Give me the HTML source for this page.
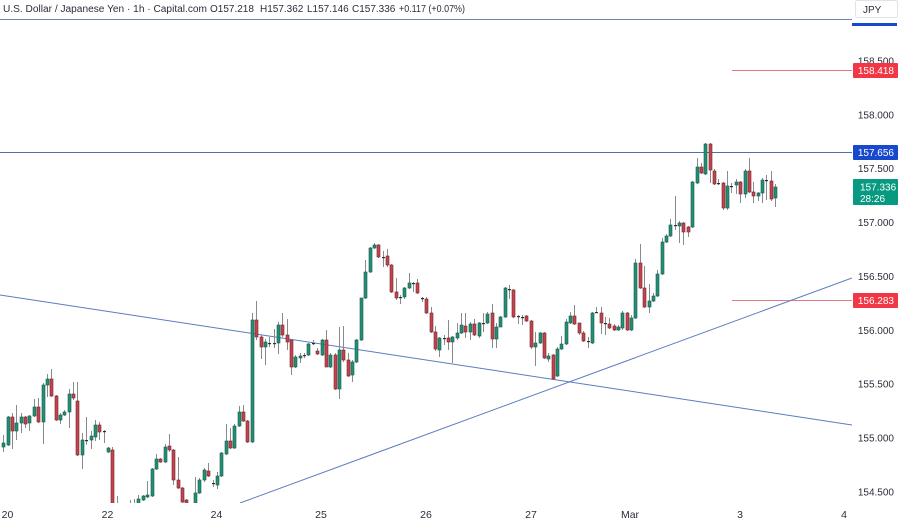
<!DOCTYPE html>
<html><head><meta charset="utf-8"><style>
html,body{margin:0;padding:0;background:#fff;}
body{width:900px;height:521px;overflow:hidden;}
svg{display:block;font-family:"Liberation Sans",sans-serif;}
.ax{font-size:10px;fill:#2a2e39;}
.lb{font-size:10px;fill:#fff;}
.dt{font-size:10.5px;fill:#2a2e39;}
.tt{font-size:10px;fill:#2a2e39;}
</style></head><body>
<svg width="900" height="521" viewBox="0 0 900 521" xmlns="http://www.w3.org/2000/svg">
<defs><clipPath id="c"><rect x="0" y="0" width="852" height="503"/></clipPath></defs>
<rect width="900" height="521" fill="#fff"/>
<!-- title -->
<text class="tt" x="3" y="12" textLength="204" lengthAdjust="spacingAndGlyphs">U.S. Dollar / Japanese Yen · 1h · Capital.com</text>
<text class="tt" x="210" y="12">O157.218</text>
<text class="tt" x="260" y="12">H157.362</text>
<text class="tt" x="307" y="12">L157.146</text>
<text class="tt" x="352" y="12">C157.336</text>
<text class="tt" x="399" y="12" textLength="66" lengthAdjust="spacingAndGlyphs">+0.117 (+0.07%)</text>

<g clip-path="url(#c)">
<line x1="0" y1="19.5" x2="852" y2="19.5" stroke="#6a86b6" stroke-width="1"/>
<line x1="0" y1="152.5" x2="852" y2="152.5" stroke="#4f6fa8" stroke-width="1"/>
<line x1="732" y1="70.5" x2="852" y2="70.5" stroke="#e07a84" stroke-width="1"/>
<line x1="732" y1="300.5" x2="852" y2="300.5" stroke="#e07a84" stroke-width="1"/>
<line x1="0" y1="295" x2="852" y2="425" stroke="#5a7cbf" stroke-width="1"/>
<line x1="240" y1="503" x2="852" y2="278" stroke="#5a7cbf" stroke-width="1"/>

<path fill="none" stroke="#8a8a8a" stroke-width="1" d="M3.5 435V452M8.5 416V446M12.5 413V449M16.5 405V440M21.5 413V433M25.5 416V428M29.5 415V431M34.5 399V417M38.5 398V423M43.5 383V444M47.5 374V397M51.5 369V397M56.5 395V421M60.5 413V424M64.5 410V416M69.5 389V428M73.5 382V400M77.5 382V456M82.5 433V469M86.5 417V445M91.5 431V449M95.5 420V441M99.5 422V440M104.5 430V443M108.5 447V453M112.5 447V510M117.5 496V520M130.5 500V520M134.5 499V520M138.5 495V510M143.5 495V501M147.5 481V498M152.5 468V497M156.5 454V470M160.5 458V463M165.5 444V463M169.5 434V452M173.5 449V485M178.5 457V489M182.5 487V503M186.5 499V510M195.5 477V510M199.5 478V494M204.5 468V482M208.5 463V477M213.5 480V487M217.5 472V489M221.5 452V477M226.5 424V455M230.5 428V449M234.5 424V449M239.5 406V427M243.5 405V422M247.5 420V443M252.5 313V443M256.5 301V340M261.5 335V359M265.5 339V365M269.5 337V347M274.5 329V348M278.5 322V354M282.5 313V337M287.5 319V350M291.5 339V375M295.5 355V368M300.5 353V363M304.5 353V358M308.5 343V356M313.5 340V345M317.5 348V355M322.5 339V356M326.5 330V367M330.5 353V368M335.5 353V390M339.5 327V399M343.5 326V362M348.5 353V377M352.5 360V382M356.5 339V363M361.5 298V341M365.5 260V299M370.5 247V273M374.5 243V249M378.5 244V258M383.5 251V267M387.5 249V267M391.5 264V293M396.5 278V300M400.5 295V304M404.5 287V299M409.5 273V289M413.5 282V292M417.5 279V294M422.5 297V302M426.5 297V314M431.5 307V333M435.5 326V351M439.5 337V357M444.5 335V345M448.5 320V350M452.5 336V363M457.5 323V340M461.5 313V334M465.5 313V338M470.5 322V340M474.5 319V336M479.5 322V338M483.5 313V332M487.5 312V324M492.5 304V348M496.5 323V348M500.5 316V327M505.5 287V318M509.5 285V299M513.5 289V318M518.5 315V324M522.5 315V325M526.5 315V322M531.5 320V349M535.5 332V366M540.5 332V344M544.5 332V359M548.5 353V362M553.5 354V380M557.5 347V377M561.5 336V350M566.5 319V345M570.5 312V324M574.5 305V325M579.5 323V335M583.5 331V342M588.5 337V348M592.5 312V344M596.5 307V313M601.5 307V334M605.5 317V335M609.5 318V329M614.5 324V331M618.5 325V331M622.5 311V330M627.5 312V331M631.5 315V331M635.5 259V319M640.5 244V289M644.5 266V308M649.5 284V313M653.5 293V302M657.5 270V297M662.5 238V275M666.5 234V243M670.5 219V237M675.5 196V230M679.5 221V243M683.5 222V245M688.5 226V237M692.5 181V228M697.5 158V184M701.5 163V174M705.5 143V175M710.5 143V183M714.5 169V185M718.5 179V185M723.5 182V210M727.5 171V210M731.5 183V193M736.5 179V194M740.5 181V203M745.5 169V198M749.5 158V193M753.5 182V203M758.5 192V201M762.5 178V203M766.5 175V200M771.5 171V201M775.5 184V207"/>

<g fill="#228f75" stroke="#1a5a4b" stroke-width="0.6">
<rect x="2" y="443" width="3" height="4"/><rect x="7" y="417" width="3" height="28"/><rect x="15" y="423" width="3" height="8"/><rect x="20" y="417" width="3" height="6"/><rect x="28" y="416" width="3" height="7"/><rect x="33" y="407" width="3" height="9"/><rect x="42" y="385" width="3" height="37"/><rect x="46" y="379" width="3" height="6"/><rect x="59" y="415" width="3" height="5"/><rect x="63" y="412" width="3" height="3"/><rect x="68" y="394" width="3" height="18"/><rect x="81" y="440" width="3" height="15"/><rect x="90" y="436" width="3" height="4"/><rect x="94" y="425" width="3" height="12"/><rect x="107" y="448" width="3" height="4"/><rect x="137" y="499" width="3" height="11"/><rect x="142" y="496" width="3" height="4"/><rect x="146" y="495" width="3" height="2"/><rect x="151" y="469" width="3" height="27"/><rect x="155" y="459" width="3" height="10"/><rect x="164" y="447" width="3" height="15"/><rect x="194" y="493" width="3" height="17"/><rect x="198" y="480" width="3" height="13"/><rect x="203" y="470" width="3" height="10"/><rect x="216" y="476" width="3" height="9"/><rect x="220" y="453" width="3" height="23"/><rect x="225" y="441" width="3" height="13"/><rect x="233" y="426" width="3" height="22"/><rect x="238" y="412" width="3" height="14"/><rect x="251" y="320" width="3" height="122"/><rect x="264" y="342" width="3" height="5"/><rect x="277" y="325" width="3" height="18"/><rect x="294" y="357" width="3" height="10"/><rect x="299" y="356" width="3" height="2"/><rect x="307" y="344" width="3" height="11"/><rect x="321" y="340" width="3" height="15"/><rect x="329" y="355" width="3" height="12"/><rect x="338" y="350" width="3" height="39"/><rect x="351" y="362" width="3" height="13"/><rect x="355" y="340" width="3" height="22"/><rect x="360" y="298" width="3" height="42"/><rect x="364" y="272" width="3" height="26"/><rect x="369" y="248" width="3" height="24"/><rect x="373" y="245" width="3" height="3"/><rect x="403" y="288" width="3" height="9"/><rect x="408" y="283" width="3" height="5"/><rect x="438" y="338" width="3" height="12"/><rect x="451" y="337" width="3" height="5"/><rect x="456" y="333" width="3" height="5"/><rect x="460" y="325" width="3" height="8"/><rect x="469" y="324" width="3" height="8"/><rect x="478" y="323" width="3" height="13"/><rect x="486" y="314" width="3" height="9"/><rect x="495" y="327" width="3" height="12"/><rect x="499" y="317" width="3" height="10"/><rect x="504" y="288" width="3" height="29"/><rect x="534" y="343" width="3" height="4"/><rect x="539" y="333" width="3" height="10"/><rect x="547" y="356" width="3" height="3"/><rect x="556" y="349" width="3" height="27"/><rect x="560" y="344" width="3" height="5"/><rect x="565" y="322" width="3" height="22"/><rect x="569" y="316" width="3" height="7"/><rect x="591" y="313" width="3" height="30"/><rect x="617" y="327" width="3" height="3"/><rect x="621" y="313" width="3" height="15"/><rect x="630" y="318" width="3" height="12"/><rect x="634" y="263" width="3" height="55"/><rect x="648" y="301" width="3" height="6"/><rect x="652" y="296" width="3" height="5"/><rect x="656" y="274" width="3" height="22"/><rect x="661" y="242" width="3" height="32"/><rect x="665" y="236" width="3" height="6"/><rect x="669" y="225" width="3" height="11"/><rect x="678" y="223" width="3" height="3"/><rect x="691" y="182" width="3" height="45"/><rect x="696" y="167" width="3" height="16"/><rect x="704" y="144" width="3" height="30"/><rect x="726" y="186" width="3" height="22"/><rect x="735" y="182" width="3" height="3"/><rect x="744" y="171" width="3" height="23"/><rect x="757" y="193" width="3" height="3"/><rect x="761" y="180" width="3" height="13"/><rect x="774" y="187" width="3" height="11"/>
</g>
<g fill="#c6434e" stroke="#6b2a30" stroke-width="0.6">
<rect x="11" y="417" width="3" height="14"/><rect x="24" y="417" width="3" height="7"/><rect x="37" y="407" width="3" height="15"/><rect x="50" y="379" width="3" height="17"/><rect x="55" y="396" width="3" height="24"/><rect x="72" y="394" width="3" height="4"/><rect x="76" y="401" width="3" height="54"/><rect x="98" y="425" width="3" height="7"/><rect x="111" y="450" width="3" height="60"/><rect x="116" y="505" width="3" height="15"/><rect x="159" y="459" width="3" height="3"/><rect x="168" y="446" width="3" height="4"/><rect x="172" y="450" width="3" height="30"/><rect x="177" y="480" width="3" height="8"/><rect x="181" y="488" width="3" height="14"/><rect x="185" y="500" width="3" height="10"/><rect x="207" y="471" width="3" height="5"/><rect x="229" y="441" width="3" height="7"/><rect x="242" y="412" width="3" height="9"/><rect x="246" y="421" width="3" height="21"/><rect x="255" y="320" width="3" height="17"/><rect x="260" y="337" width="3" height="10"/><rect x="281" y="325" width="3" height="10"/><rect x="286" y="335" width="3" height="7"/><rect x="290" y="340" width="3" height="27"/><rect x="316" y="351" width="3" height="3"/><rect x="325" y="340" width="3" height="27"/><rect x="334" y="355" width="3" height="34"/><rect x="342" y="350" width="3" height="10"/><rect x="347" y="360" width="3" height="16"/><rect x="377" y="245" width="3" height="12"/><rect x="386" y="256" width="3" height="9"/><rect x="390" y="265" width="3" height="27"/><rect x="395" y="292" width="3" height="6"/><rect x="416" y="283" width="3" height="10"/><rect x="425" y="299" width="3" height="14"/><rect x="430" y="313" width="3" height="19"/><rect x="434" y="332" width="3" height="17"/><rect x="447" y="338" width="3" height="4"/><rect x="464" y="326" width="3" height="6"/><rect x="473" y="324" width="3" height="11"/><rect x="491" y="313" width="3" height="26"/><rect x="512" y="290" width="3" height="27"/><rect x="525" y="316" width="3" height="5"/><rect x="530" y="321" width="3" height="26"/><rect x="543" y="333" width="3" height="25"/><rect x="552" y="355" width="3" height="24"/><rect x="573" y="316" width="3" height="8"/><rect x="578" y="323" width="3" height="10"/><rect x="582" y="333" width="3" height="8"/><rect x="600" y="313" width="3" height="10"/><rect x="608" y="324" width="3" height="4"/><rect x="613" y="326" width="3" height="4"/><rect x="626" y="313" width="3" height="17"/><rect x="639" y="263" width="3" height="25"/><rect x="643" y="288" width="3" height="19"/><rect x="682" y="223" width="3" height="9"/><rect x="687" y="227" width="3" height="5"/><rect x="700" y="167" width="3" height="6"/><rect x="709" y="144" width="3" height="26"/><rect x="713" y="171" width="3" height="13"/><rect x="722" y="183" width="3" height="25"/><rect x="739" y="182" width="3" height="12"/><rect x="748" y="171" width="3" height="21"/><rect x="752" y="192" width="3" height="4"/><rect x="770" y="181" width="3" height="18"/>
</g>
<g fill="#2a2e39">
<rect x="85" y="440" width="3" height="1.2"/><rect x="103" y="431" width="3" height="1.2"/><rect x="212" y="483" width="3" height="1.2"/><rect x="268" y="343" width="3" height="1.2"/><rect x="273" y="343" width="3" height="1.2"/><rect x="303" y="355" width="3" height="1.2"/><rect x="312" y="343" width="3" height="1.2"/><rect x="382" y="257" width="3" height="1.2"/><rect x="399" y="297" width="3" height="1.2"/><rect x="412" y="283" width="3" height="1.2"/><rect x="421" y="298" width="3" height="1.2"/><rect x="443" y="338" width="3" height="1.2"/><rect x="482" y="323" width="3" height="1.2"/><rect x="508" y="289" width="3" height="1.2"/><rect x="517" y="316" width="3" height="1.2"/><rect x="521" y="317" width="3" height="1.2"/><rect x="587" y="341" width="3" height="1.2"/><rect x="595" y="312" width="3" height="1.2"/><rect x="604" y="323" width="3" height="1.2"/><rect x="674" y="225" width="3" height="1.2"/><rect x="717" y="183" width="3" height="1.2"/><rect x="730" y="186" width="3" height="1.2"/><rect x="765" y="180" width="3" height="1.2"/>
</g>
</g>

<!-- price axis -->
<rect x="855.5" y="0.5" width="42" height="17" rx="2" fill="#fff" stroke="#e0e3eb"/>
<text x="863" y="13" font-size="10" fill="#2a2e39">JPY</text>
<rect x="852" y="23" width="45" height="3" fill="#1848cc"/>

<g class="ax" text-anchor="end">
<text x="894" y="64.5">158.500</text>
<text x="894" y="118.5">158.000</text>
<text x="894" y="172">157.500</text>
<text x="894" y="226">157.000</text>
<text x="894" y="280">156.500</text>
<text x="894" y="334">156.000</text>
<text x="894" y="387.5">155.500</text>
<text x="894" y="441.5">155.000</text>
<text x="894" y="495.5">154.500</text>
</g>

<rect x="853" y="63" width="45" height="15" rx="1" fill="#f23645"/>
<text class="lb" x="894" y="74" text-anchor="end">158.418</text>
<rect x="853" y="145" width="45" height="15" rx="1" fill="#1848cc"/>
<text class="lb" x="894" y="156" text-anchor="end">157.656</text>
<rect x="853" y="179" width="45" height="26" rx="1" fill="#089981"/>
<text class="lb" x="860" y="190.5">157.336</text>
<text class="lb" x="860" y="202">28:26</text>
<rect x="853" y="293" width="45" height="15" rx="1" fill="#f23645"/>
<text class="lb" x="894" y="304" text-anchor="end">156.283</text>

<!-- time axis -->
<g class="dt" text-anchor="middle">
<text x="7.5" y="518">20</text>
<text x="107.5" y="518">22</text>
<text x="216.5" y="518">24</text>
<text x="321" y="518">25</text>
<text x="426" y="518">26</text>
<text x="531" y="518">27</text>
<text x="630" y="518">Mar</text>
<text x="740" y="518">3</text>
<text x="844" y="518">4</text>
</g>
</svg>
</body></html>
